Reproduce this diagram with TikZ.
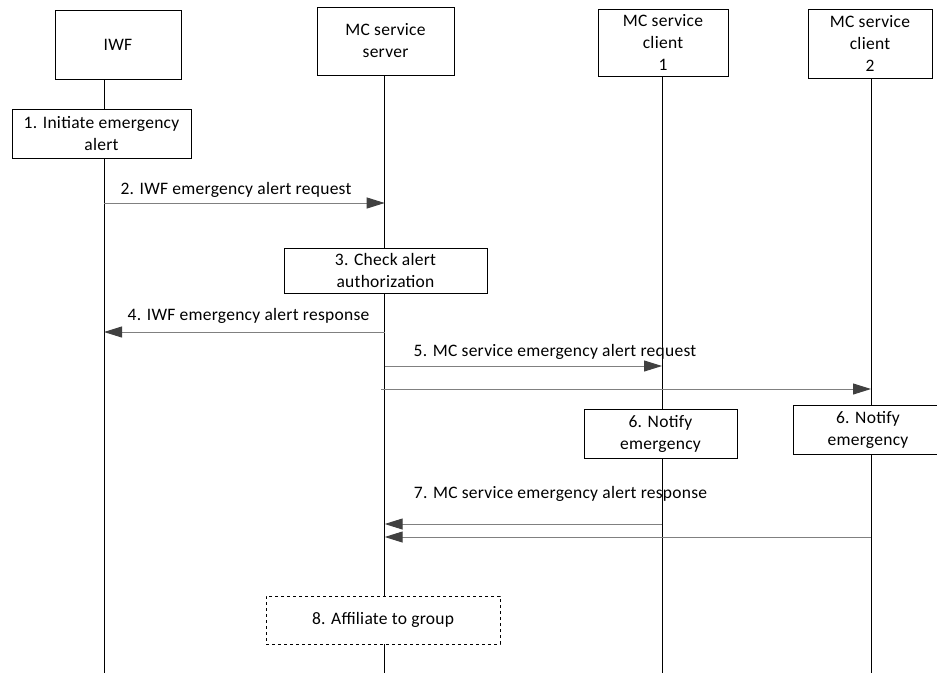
\documentclass[tikz,border=0pt]{standalone}
\usepackage{fontspec}
\setmainfont{Carlito}[LetterSpace=1.5]
\usetikzlibrary{arrows.meta}
\definecolor{msgc}{HTML}{808080}
\definecolor{tipc}{HTML}{404040}
\begin{document}
\begin{tikzpicture}[x=1pt,y=-1pt,
  txt/.style={font=\fontsize{17.5}{22}\selectfont, align=center, inner sep=0pt},
  box/.style={txt, draw=black, line width=0.8pt, fill=white},
  life/.style={draw=black, line width=0.9pt},
  msg/.style={draw=msgc, line width=1pt, -{Triangle[length=18pt,width=11pt,color=tipc]}},
  plain/.style={draw=msgc, line width=1pt}
]
\useasboundingbox (0,0) rectangle (937,673);
% header boxes
\node[box, minimum width=126pt, minimum height=69pt] (iwf) at (118,45) {IWF};
\node[box, minimum width=137pt, minimum height=68pt] (srv) at (385.5,41) {MC service\\server};
\node[box, minimum width=130pt, minimum height=67pt] (c1) at (663,42.5) {MC service\\client\\1};
\node[box, minimum width=124pt, minimum height=69pt] (c2) at (870,43.5) {MC service\\client\\2};
% lifeline x positions
\coordinate (xI) at (104,0);
\coordinate (xS) at (384.7,0);
\coordinate (x1) at (662,0);
\coordinate (x2) at (871,0);
\coordinate (bI) at (104,673);
\coordinate (bS) at (384.7,673);
\coordinate (b1) at (662,673);
\coordinate (b2) at (871,673);
\draw[life] (iwf.south -| xI) -- (bI);
\draw[life] (srv.south -| xS) -- (bS);
\draw[life] (c1.south -| x1) -- (b1);
\draw[life] (c2.south -| x2) -- (b2);
% action boxes
\node[box, minimum width=179pt, minimum height=49pt] (s1) at (101.5,133.5) {1. Initiate emergency\\alert};
\node[box, minimum width=203pt, minimum height=45pt] (s3) at (385.5,270.5) {3. Check alert\\authorization};
\node[box, minimum width=153pt, minimum height=49pt] (n1) at (660.5,433.5) {6. Notify\\emergency};
\node[box, minimum width=150pt, minimum height=49pt] (n2) at (868,429.5) {6. Notify\\emergency};
\node[box, dashed, minimum width=234pt, minimum height=48pt] (s8) at (383,620) {8. Affiliate to group};
% message end points
\coordinate (m2a) at (104,203);   \coordinate (m2b) at (384.7,203);
\coordinate (m4a) at (384.7,332); \coordinate (m4b) at (104,332);
\coordinate (m5a) at (384.7,366); \coordinate (m5b) at (662,366);
\coordinate (m6a) at (381,389);   \coordinate (m6b) at (871,389);
\coordinate (m7a) at (662,524);   \coordinate (m7b) at (384.7,524);
\coordinate (m8a) at (871,537);   \coordinate (m8b) at (384.7,537);
\draw[msg] (m2a) -- (m2b);
\draw[msg] (m4a) -- (m4b);
\draw[msg] (m5a) -- (m5b);
\draw[msg] (m6a) -- (m6b);
\draw[msg] (m7a) -- (m7b);
\draw[msg] (m8a) -- (m8b);
% labels
\node[txt] (l2) at (236,190) {2. IWF emergency alert request};
\node[txt] (l4) at (248.5,316) {4. IWF emergency alert response};
\node[txt] (l5) at (555,352) {5. MC service emergency alert request};
\node[txt] (l7) at (560.5,493.5) {7. MC service emergency alert response};
\end{tikzpicture}
\end{document}
